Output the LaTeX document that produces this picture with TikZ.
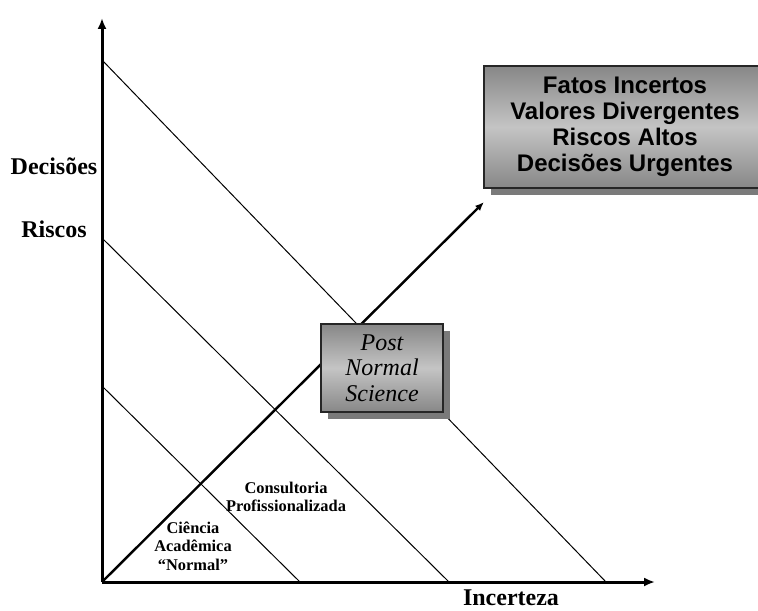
\documentclass[tikz,border=0pt]{standalone}
\usepackage{fontspec}
\setmainfont{Liberation Serif}
\newfontfamily\arialfont{Liberation Sans}
\usetikzlibrary{arrows.meta,shadows}

\begin{document}
\begin{tikzpicture}[x=0.5pt, y=-0.5pt,
    axis/.style={line width=1.5pt, -{Latex[length=5.5pt,width=4.5pt]}},
    zone/.style={line width=0.5pt},
    trend/.style={line width=1.2pt, -{Latex[length=4.5pt,width=3.6pt]}},
    graybox/.style={draw=black!85, line width=0.6pt, top color=black!47,
      bottom color=black!47, middle color=black!23, inner sep=0pt,
      drop shadow={shadow xshift=3.5pt, shadow yshift=-3.5pt,
        fill=black!52, opacity=1}, align=center},
    axislabel/.style={font=\bfseries\fontsize{12}{14}\selectfont},
    zonelabel/.style={font=\bfseries\fontsize{8.2}{9.25}\selectfont, align=center}]
  % picture in pixel units, y downwards
  \clip (0,0) rectangle (758,610);
  \coordinate (origin) at (102,582);
  \coordinate (ytop) at (102,18);
  \coordinate (xend) at (655,582);
  % axes
  \draw[axis] (origin) -- (ytop);
  \draw[axis] (origin) -- (xend);
  % zone boundaries
  \coordinate (z1a) at (102,60);  \coordinate (z1b) at (606,582);
  \coordinate (z2a) at (102,238); \coordinate (z2b) at (449,582);
  \coordinate (z3a) at (102,386); \coordinate (z3b) at (300,582);
  \draw[zone] (z1a) -- (z1b);
  \draw[zone] (z2a) -- (z2b);
  \draw[zone] (z3a) -- (z3b);
  % trend towards post normal science
  \coordinate (trendtip) at (484,202);
  \draw[trend] (origin) -- (trendtip);
  % boxes
  \node[graybox, minimum width=61pt, minimum height=44pt,
    font=\itshape\fontsize{12}{12.75}\selectfont] (pns) at (382,368)
    {Post\\Normal\\Science};
  \node[graybox, minimum width=149pt, minimum height=61pt,
    font=\arialfont\bfseries\fontsize{12}{13}\selectfont] (pnsfeat) at (633,127)
    {\hspace*{-8pt}\begin{tabular}{@{}c@{}}Fatos Incertos\\Valores Divergentes\\Riscos Altos\\Decisões Urgentes\end{tabular}};
  % labels
  \node[axislabel] (decisoes) at (54,166) {Decisões};
  \node[axislabel] (riscos) at (54,229) {Riscos};
  \node[axislabel] (incerteza) at (511,598) {Incerteza};
  \node[zonelabel] (consult) at (286,497) {Consultoria\\Profissionalizada};
  \node[zonelabel] (ciencia) at (193,546) {Ciência\\Acadêmica\\“Normal”};
\end{tikzpicture}
\end{document}
